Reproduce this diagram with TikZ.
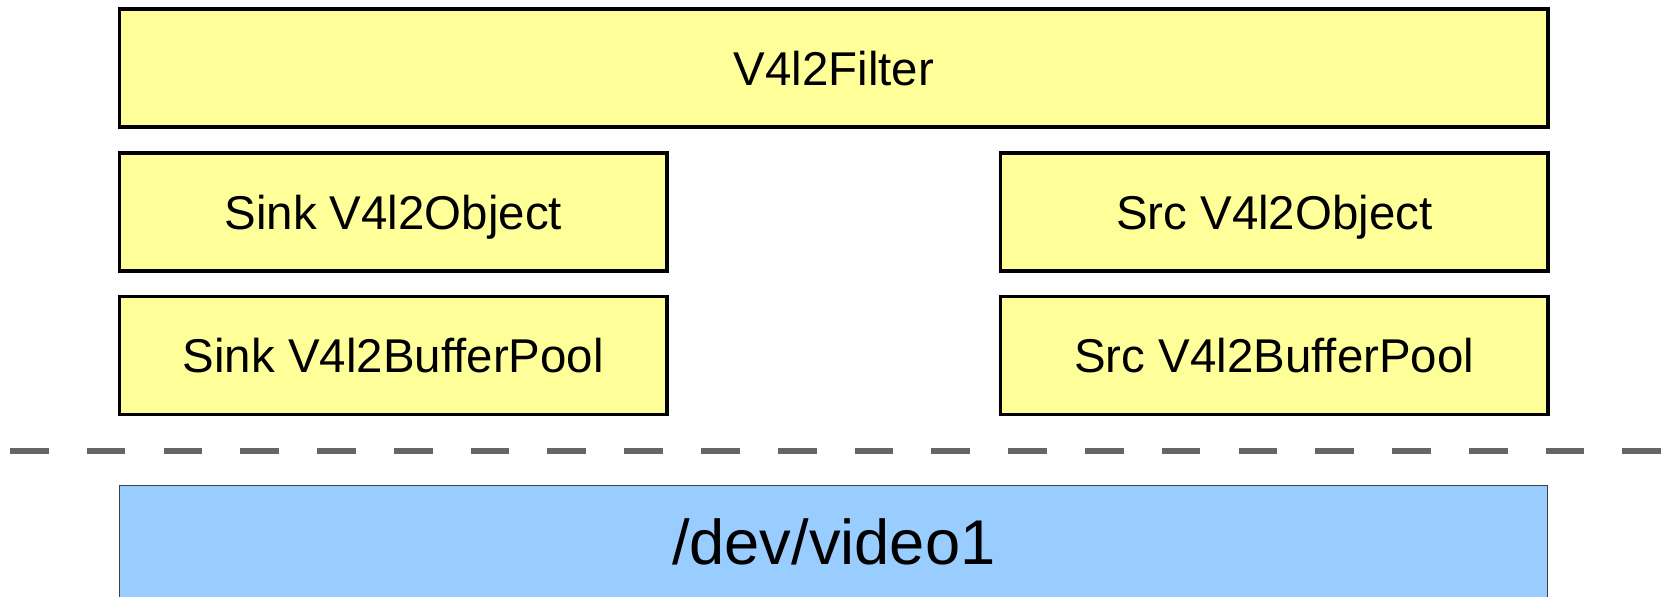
\documentclass[tikz,border=0pt]{standalone}
\usepackage{fontspec}
\setmainfont{Liberation Sans}
\definecolor{layeryellow}{HTML}{FFFF99}
\definecolor{devblue}{HTML}{99CCFF}
\definecolor{sepgray}{HTML}{666666}
\begin{document}
\begin{tikzpicture}[x=0.02cm, y=-0.02cm,
    layer/.style={draw=black, line width=0.07cm, fill=layeryellow, inner sep=0pt,
        minimum height=2.36cm, text depth=0pt, font=\fontsize{27}{33}\selectfont},
    half/.style={layer, minimum width=10.95cm},
    device/.style={draw=black!75, line width=0.02cm, fill=devblue, inner sep=0pt,
        minimum width=28.57cm, minimum height=2.24cm, font=\fontsize{36}{43}\selectfont}]
    \useasboundingbox (0,0) rectangle (1667,597);

    \node[layer, minimum width=28.57cm] (filter) at (833.75, 68) {V4l2Filter};

    \node[half] (sinkobj) at (393.25, 212) {Sink V4l2Object};
    \node[half] (srcobj) at (1274.25, 212) {Src V4l2Object};

    \node[half] (sinkpool) at (393.25, 355.5) {Sink V4l2BufferPool};
    \node[half] (srcpool) at (1274.25, 355.5) {Src V4l2BufferPool};

    % kernel boundary
    \coordinate (sepL) at (10, 451.5);
    \coordinate (sepR) at (1667, 451.5);
    \draw[sepgray, line width=0.12cm, dash pattern=on 0.774cm off 0.762cm] (sepL) -- (sepR);

    \node[device] (video) at (833.75, 541.5) {/dev/video1};
\end{tikzpicture}
\end{document}
